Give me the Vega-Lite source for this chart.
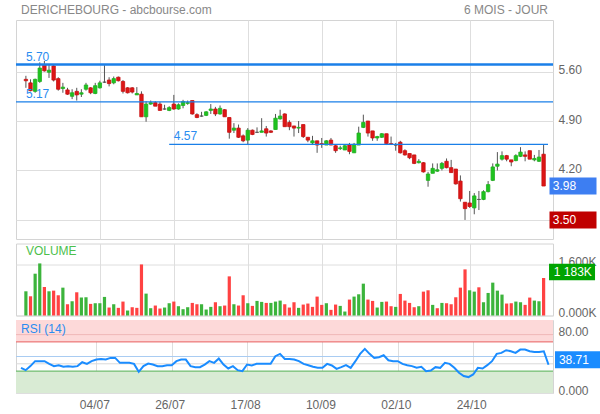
{
"$schema": "https://vega.github.io/schema/vega-lite/v6.json",
"autosize": {"type": "pad"},
"padding": {"left": 14, "top": 3, "right": 0, "bottom": 0},
"background": "white",
"config": {
  "font": "Liberation Sans",
  "view": {"stroke": "#d4d4d4"},
  "axis": {"gridColor": "#dedede", "domain": false, "ticks": false, "labelColor": "#666666", "labelFontSize": 12, "labelFont": "Liberation Sans", "titleFont": "Liberation Sans"}
},
"datasets": {
"one": [{}],
"p": [
{"i":0,"d":"12/06","o":5.49,"h":5.54,"l":5.37,"c":5.47,"v":763,"vd":"u","r":34.5},
{"i":1,"d":"13/06","o":5.44,"h":5.49,"l":5.32,"c":5.33,"v":606,"vd":"d","r":31.3},
{"i":2,"d":"14/06","o":5.32,"h":5.50,"l":5.30,"c":5.49,"v":1318,"vd":"u","r":36.8},
{"i":3,"d":"15/06","o":5.46,"h":5.73,"l":5.44,"c":5.65,"v":1642,"vd":"u","r":43.6},
{"i":4,"d":"18/06","o":5.70,"h":5.75,"l":5.60,"c":5.61,"v":899,"vd":"d","r":43.6},
{"i":5,"d":"19/06","o":5.59,"h":5.70,"l":5.51,"c":5.62,"v":763,"vd":"u","r":43.6},
{"i":6,"d":"20/06","o":5.68,"h":5.70,"l":5.46,"c":5.48,"v":784,"vd":"d","r":39.9},
{"i":7,"d":"21/06","o":5.50,"h":5.52,"l":5.33,"c":5.35,"v":638,"vd":"d","r":36.8},
{"i":8,"d":"22/06","o":5.36,"h":5.44,"l":5.30,"c":5.38,"v":878,"vd":"u","r":38.1},
{"i":9,"d":"25/06","o":5.34,"h":5.37,"l":5.27,"c":5.28,"v":355,"vd":"d","r":35.9},
{"i":10,"d":"26/06","o":5.25,"h":5.35,"l":5.21,"c":5.30,"v":449,"vd":"u","r":36.8},
{"i":11,"d":"27/06","o":5.32,"h":5.37,"l":5.19,"c":5.27,"v":732,"vd":"d","r":35.9},
{"i":12,"d":"28/06","o":5.28,"h":5.35,"l":5.24,"c":5.30,"v":565,"vd":"u","r":36.8},
{"i":13,"d":"29/06","o":5.35,"h":5.44,"l":5.33,"c":5.41,"v":575,"vd":"u","r":42.2},
{"i":14,"d":"02/07","o":5.37,"h":5.38,"l":5.28,"c":5.30,"v":366,"vd":"d","r":39.9},
{"i":15,"d":"03/07","o":5.29,"h":5.44,"l":5.28,"c":5.40,"v":387,"vd":"u","r":43.6},
{"i":16,"d":"04/07","o":5.37,"h":5.47,"l":5.36,"c":5.44,"v":387,"vd":"u","r":45.8},
{"i":17,"d":"05/07","o":5.45,"h":5.69,"l":5.44,"c":5.45,"v":586,"vd":"u","r":46.7},
{"i":18,"d":"06/07","o":5.48,"h":5.52,"l":5.39,"c":5.43,"v":251,"vd":"d","r":45.8},
{"i":19,"d":"09/07","o":5.44,"h":5.53,"l":5.42,"c":5.50,"v":355,"vd":"u","r":48.1},
{"i":20,"d":"10/07","o":5.52,"h":5.53,"l":5.46,"c":5.47,"v":241,"vd":"d","r":48.1},
{"i":21,"d":"11/07","o":5.46,"h":5.48,"l":5.29,"c":5.32,"v":439,"vd":"d","r":41.3},
{"i":22,"d":"12/07","o":5.37,"h":5.38,"l":5.29,"c":5.30,"v":157,"vd":"u","r":41.3},
{"i":23,"d":"13/07","o":5.37,"h":5.38,"l":5.29,"c":5.31,"v":261,"vd":"d","r":41.3},
{"i":24,"d":"16/07","o":5.27,"h":5.38,"l":5.27,"c":5.29,"v":241,"vd":"d","r":39.9},
{"i":25,"d":"17/07","o":5.28,"h":5.32,"l":4.96,"c":4.96,"v":1610,"vd":"d","r":29.0},
{"i":26,"d":"18/07","o":4.96,"h":5.18,"l":4.89,"c":5.14,"v":690,"vd":"u","r":36.8},
{"i":27,"d":"19/07","o":5.14,"h":5.19,"l":5.13,"c":5.16,"v":230,"vd":"u","r":40.4},
{"i":28,"d":"20/07","o":5.16,"h":5.18,"l":5.11,"c":5.11,"v":314,"vd":"d","r":39.0},
{"i":29,"d":"23/07","o":5.14,"h":5.17,"l":5.05,"c":5.05,"v":220,"vd":"d","r":36.8},
{"i":30,"d":"24/07","o":5.07,"h":5.13,"l":5.06,"c":5.07,"v":251,"vd":"u","r":36.8},
{"i":31,"d":"25/07","o":5.05,"h":5.11,"l":5.04,"c":5.09,"v":387,"vd":"u","r":38.1},
{"i":32,"d":"26/07","o":5.14,"h":5.27,"l":5.06,"c":5.07,"v":439,"vd":"d","r":38.1},
{"i":33,"d":"27/07","o":5.07,"h":5.15,"l":5.06,"c":5.13,"v":293,"vd":"u","r":43.6},
{"i":34,"d":"30/07","o":5.12,"h":5.20,"l":5.08,"c":5.175,"v":199,"vd":"u","r":45.8},
{"i":35,"d":"31/07","o":5.15,"h":5.19,"l":5.13,"c":5.16,"v":261,"vd":"u","r":45.8},
{"i":36,"d":"01/08","o":5.19,"h":5.19,"l":4.99,"c":5.00,"v":397,"vd":"d","r":36.8},
{"i":37,"d":"02/08","o":4.99,"h":5.01,"l":4.94,"c":4.95,"v":355,"vd":"d","r":35.4},
{"i":38,"d":"03/08","o":4.97,"h":5.03,"l":4.96,"c":4.97,"v":355,"vd":"u","r":35.4},
{"i":39,"d":"06/08","o":4.98,"h":5.04,"l":4.97,"c":5.03,"v":188,"vd":"u","r":39.0},
{"i":40,"d":"07/08","o":5.05,"h":5.14,"l":5.00,"c":5.07,"v":272,"vd":"u","r":43.6},
{"i":41,"d":"08/08","o":5.07,"h":5.10,"l":4.97,"c":5.00,"v":418,"vd":"d","r":41.3},
{"i":42,"d":"09/08","o":5.00,"h":5.12,"l":4.99,"c":5.08,"v":293,"vd":"u","r":47.2},
{"i":43,"d":"10/08","o":5.06,"h":5.07,"l":4.96,"c":4.96,"v":314,"vd":"d","r":39.0},
{"i":44,"d":"13/08","o":4.95,"h":4.95,"l":4.65,"c":4.74,"v":1234,"vd":"d","r":33.6},
{"i":45,"d":"14/08","o":4.77,"h":4.87,"l":4.73,"c":4.80,"v":355,"vd":"u","r":36.8},
{"i":46,"d":"15/08","o":4.80,"h":4.85,"l":4.66,"c":4.67,"v":314,"vd":"d","r":31.3},
{"i":47,"d":"16/08","o":4.69,"h":4.71,"l":4.60,"c":4.62,"v":638,"vd":"d","r":29.9},
{"i":48,"d":"17/08","o":4.63,"h":4.80,"l":4.56,"c":4.77,"v":387,"vd":"u","r":39.0},
{"i":49,"d":"20/08","o":4.77,"h":4.78,"l":4.70,"c":4.71,"v":303,"vd":"d","r":37.7},
{"i":50,"d":"21/08","o":4.74,"h":4.81,"l":4.73,"c":4.74,"v":460,"vd":"u","r":39.9},
{"i":51,"d":"22/08","o":4.74,"h":4.94,"l":4.74,"c":4.76,"v":429,"vd":"u","r":39.9},
{"i":52,"d":"23/08","o":4.79,"h":4.83,"l":4.68,"c":4.73,"v":397,"vd":"d","r":39.9},
{"i":53,"d":"24/08","o":4.76,"h":4.77,"l":4.73,"c":4.74,"v":397,"vd":"u","r":39.9},
{"i":54,"d":"27/08","o":4.78,"h":5.00,"l":4.78,"c":4.94,"v":439,"vd":"u","r":50.4},
{"i":55,"d":"28/08","o":4.93,"h":5.06,"l":4.92,"c":4.97,"v":470,"vd":"u","r":53.6},
{"i":56,"d":"29/08","o":5.00,"h":5.01,"l":4.82,"c":4.82,"v":355,"vd":"d","r":46.7},
{"i":57,"d":"30/08","o":4.88,"h":4.91,"l":4.77,"c":4.82,"v":251,"vd":"d","r":46.7},
{"i":58,"d":"31/08","o":4.83,"h":4.83,"l":4.68,"c":4.80,"v":418,"vd":"d","r":45.8},
{"i":59,"d":"03/09","o":4.80,"h":4.90,"l":4.73,"c":4.81,"v":241,"vd":"u","r":43.6},
{"i":60,"d":"04/09","o":4.85,"h":4.85,"l":4.66,"c":4.68,"v":345,"vd":"d","r":39.9},
{"i":61,"d":"05/09","o":4.67,"h":4.67,"l":4.60,"c":4.63,"v":377,"vd":"d","r":38.1},
{"i":62,"d":"06/09","o":4.59,"h":4.69,"l":4.56,"c":4.62,"v":272,"vd":"d","r":35.9},
{"i":63,"d":"07/09","o":4.62,"h":4.62,"l":4.45,"c":4.56,"v":596,"vd":"d","r":34.5},
{"i":64,"d":"10/09","o":4.58,"h":4.66,"l":4.52,"c":4.57,"v":335,"vd":"d","r":34.5},
{"i":65,"d":"11/09","o":4.56,"h":4.63,"l":4.56,"c":4.62,"v":387,"vd":"u","r":39.9},
{"i":66,"d":"12/09","o":4.63,"h":4.66,"l":4.56,"c":4.56,"v":178,"vd":"d","r":37.7},
{"i":67,"d":"13/09","o":4.55,"h":4.57,"l":4.45,"c":4.48,"v":345,"vd":"d","r":33.1},
{"i":68,"d":"14/09","o":4.51,"h":4.55,"l":4.49,"c":4.52,"v":303,"vd":"u","r":35.4},
{"i":69,"d":"17/09","o":4.49,"h":4.56,"l":4.49,"c":4.55,"v":125,"vd":"u","r":38.1},
{"i":70,"d":"18/09","o":4.56,"h":4.59,"l":4.43,"c":4.47,"v":502,"vd":"d","r":34.5},
{"i":71,"d":"19/09","o":4.45,"h":4.59,"l":4.45,"c":4.57,"v":596,"vd":"u","r":43.6},
{"i":72,"d":"20/09","o":4.56,"h":4.82,"l":4.56,"c":4.73,"v":669,"vd":"u","r":53.6},
{"i":73,"d":"21/09","o":4.81,"h":4.99,"l":4.80,"c":4.88,"v":1004,"vd":"u","r":60.4},
{"i":74,"d":"24/09","o":4.90,"h":4.90,"l":4.68,"c":4.73,"v":502,"vd":"d","r":53.6},
{"i":75,"d":"25/09","o":4.76,"h":4.76,"l":4.62,"c":4.66,"v":460,"vd":"d","r":48.1},
{"i":76,"d":"26/09","o":4.66,"h":4.69,"l":4.62,"c":4.68,"v":251,"vd":"u","r":49.0},
{"i":77,"d":"27/09","o":4.67,"h":4.73,"l":4.66,"c":4.72,"v":429,"vd":"u","r":51.7},
{"i":78,"d":"28/09","o":4.72,"h":4.72,"l":4.56,"c":4.58,"v":439,"vd":"d","r":44.9},
{"i":79,"d":"01/10","o":4.58,"h":4.68,"l":4.56,"c":4.57,"v":293,"vd":"d","r":43.6},
{"i":80,"d":"02/10","o":4.56,"h":4.59,"l":4.48,"c":4.56,"v":272,"vd":"u","r":43.6},
{"i":81,"d":"03/10","o":4.60,"h":4.62,"l":4.44,"c":4.45,"v":680,"vd":"d","r":39.9},
{"i":82,"d":"04/10","o":4.48,"h":4.50,"l":4.41,"c":4.42,"v":470,"vd":"d","r":38.1},
{"i":83,"d":"05/10","o":4.44,"h":4.44,"l":4.36,"c":4.38,"v":397,"vd":"d","r":36.8},
{"i":84,"d":"08/10","o":4.42,"h":4.42,"l":4.29,"c":4.30,"v":261,"vd":"d","r":34.5},
{"i":85,"d":"09/10","o":4.31,"h":4.36,"l":4.30,"c":4.33,"v":293,"vd":"u","r":35.9},
{"i":86,"d":"10/10","o":4.31,"h":4.32,"l":4.17,"c":4.18,"v":753,"vd":"d","r":29.9},
{"i":87,"d":"11/10","o":4.06,"h":4.18,"l":3.97,"c":4.15,"v":795,"vd":"d","r":30.8},
{"i":88,"d":"12/10","o":4.16,"h":4.30,"l":4.16,"c":4.23,"v":335,"vd":"u","r":35.4},
{"i":89,"d":"15/10","o":4.19,"h":4.30,"l":4.18,"c":4.21,"v":230,"vd":"d","r":34.5},
{"i":90,"d":"16/10","o":4.23,"h":4.32,"l":4.20,"c":4.30,"v":397,"vd":"u","r":41.3},
{"i":91,"d":"17/10","o":4.33,"h":4.37,"l":4.23,"c":4.24,"v":387,"vd":"d","r":39.9},
{"i":92,"d":"18/10","o":4.24,"h":4.35,"l":4.17,"c":4.17,"v":355,"vd":"d","r":34.5},
{"i":93,"d":"19/10","o":4.22,"h":4.22,"l":4.00,"c":4.01,"v":575,"vd":"d","r":27.7},
{"i":94,"d":"22/10","o":4.05,"h":4.13,"l":3.76,"c":3.80,"v":878,"vd":"d","r":23.2},
{"i":95,"d":"23/10","o":3.75,"h":3.75,"l":3.50,"c":3.66,"v":1454,"vd":"d","r":21.8},
{"i":96,"d":"24/10","o":3.74,"h":3.91,"l":3.67,"c":3.69,"v":795,"vd":"u","r":25.4},
{"i":97,"d":"25/10","o":3.67,"h":3.88,"l":3.58,"c":3.84,"v":753,"vd":"u","r":34.5},
{"i":98,"d":"26/10","o":3.79,"h":3.91,"l":3.64,"c":3.79,"v":889,"vd":"d","r":33.6},
{"i":99,"d":"29/10","o":3.79,"h":3.92,"l":3.78,"c":3.90,"v":418,"vd":"u","r":38.1},
{"i":100,"d":"30/10","o":3.90,"h":4.05,"l":3.89,"c":4.00,"v":711,"vd":"u","r":43.6},
{"i":101,"d":"31/10","o":4.06,"h":4.30,"l":4.05,"c":4.25,"v":1036,"vd":"u","r":53.6},
{"i":102,"d":"01/11","o":4.26,"h":4.46,"l":4.20,"c":4.29,"v":784,"vd":"u","r":54.9},
{"i":103,"d":"02/11","o":4.36,"h":4.47,"l":4.34,"c":4.41,"v":659,"vd":"u","r":58.6},
{"i":104,"d":"05/11","o":4.41,"h":4.42,"l":4.33,"c":4.36,"v":377,"vd":"d","r":57.2},
{"i":105,"d":"06/11","o":4.35,"h":4.35,"l":4.26,"c":4.32,"v":387,"vd":"d","r":54.9},
{"i":106,"d":"07/11","o":4.34,"h":4.43,"l":4.33,"c":4.41,"v":439,"vd":"u","r":59.5},
{"i":107,"d":"08/11","o":4.40,"h":4.53,"l":4.39,"c":4.46,"v":418,"vd":"u","r":59.5},
{"i":108,"d":"09/11","o":4.42,"h":4.47,"l":4.33,"c":4.40,"v":335,"vd":"d","r":57.2},
{"i":109,"d":"12/11","o":4.48,"h":4.48,"l":4.36,"c":4.36,"v":565,"vd":"d","r":56.3},
{"i":110,"d":"13/11","o":4.35,"h":4.42,"l":4.33,"c":4.37,"v":470,"vd":"u","r":56.3},
{"i":111,"d":"14/11","o":4.33,"h":4.49,"l":4.32,"c":4.39,"v":449,"vd":"u","r":57.2},
{"i":112,"d":"15/11","o":4.43,"h":4.57,"l":3.98,"c":3.98,"v":1183,"vd":"d","r":38.71}
]
},
"bounds": "flush",
"spacing": 4.5,
"vconcat": [
{
  "width": 537, "height": 219,
  "layer": [
    {"data": {"name": "p"}, "mark": {"type": "rule", "color": "#555555", "strokeWidth": 1},
     "encoding": {
       "x": {"field": "i", "type": "quantitative", "scale": {"domain": [-1.06, 112.95], "nice": false, "zero": false},
             "axis": {"orient": "top", "values": [16, 32, 48, 64, 80, 96], "labels": false, "grid": true, "title": null}},
       "y": {"field": "l", "type": "quantitative", "scale": {"domain": [3.23, 6.33], "nice": false, "zero": false},
             "axis": {"orient": "right", "values": [3.5, 4.2, 4.9, 5.6], "format": ".2f", "grid": true, "title": null, "labelPadding": 5, "labelOffset": -2}},
       "y2": {"field": "h"}
     }},
    {"data": {"name": "p"}, "mark": {"type": "bar", "width": 3.4, "strokeWidth": 0.8},
     "encoding": {
       "x": {"field": "i", "type": "quantitative"},
       "y": {"field": "o", "type": "quantitative"},
       "y2": {"field": "c"},
       "fill": {"condition": [{"test": "datum.c > datum.o", "value": "#1fc31f"}, {"test": "datum.c < datum.o", "value": "#dd1616"}], "value": "#555555"},
       "stroke": {"condition": [{"test": "datum.c > datum.o", "value": "#1fb01f"}, {"test": "datum.c < datum.o", "value": "#c81010"}], "value": "#555555"}
     }},
    {"data": {"name": "one"}, "mark": {"type": "rule", "color": "#1a7fe8", "strokeWidth": 2.4}, "encoding": {"y": {"datum": 5.70}}},
    {"data": {"name": "one"}, "mark": {"type": "rule", "color": "#1a7fe8", "strokeWidth": 1.3}, "encoding": {"y": {"datum": 5.17}}},
    {"data": {"name": "one"}, "mark": {"type": "rule", "color": "#1a7fe8", "strokeWidth": 1.3}, "encoding": {"x": {"datum": 31}, "x2": {"datum": 112.95}, "y": {"datum": 4.57}}},
    {"data": {"name": "one"}, "mark": {"type": "text", "align": "left", "baseline": "bottom", "dy": -1, "fontSize": 12, "color": "#2a8cf0"}, "encoding": {"x": {"datum": 0}, "y": {"datum": 5.70}, "text": {"value": "5.70"}}},
    {"data": {"name": "one"}, "mark": {"type": "text", "align": "left", "baseline": "bottom", "dy": -1, "fontSize": 12, "color": "#2a8cf0"}, "encoding": {"x": {"datum": 0}, "y": {"datum": 5.17}, "text": {"value": "5.17"}}},
    {"data": {"name": "one"}, "mark": {"type": "text", "align": "left", "baseline": "bottom", "dy": -1, "fontSize": 12, "color": "#2a8cf0"}, "encoding": {"x": {"datum": 32}, "y": {"datum": 4.57}, "text": {"value": "4.57"}}},
    {"data": {"name": "one"}, "mark": {"type": "text", "align": "left", "baseline": "middle", "fontSize": 12, "color": "#888888"}, "encoding": {"x": {"datum": -1.06}, "y": {"datum": 6.465}, "text": {"value": "DERICHEBOURG - abcbourse.com"}}},
    {"data": {"name": "one"}, "mark": {"type": "text", "align": "right", "baseline": "middle", "fontSize": 12, "color": "#888888"}, "encoding": {"x": {"datum": 112.95}, "y": {"datum": 6.465}, "text": {"value": "6 MOIS - JOUR"}}},
    {"data": {"name": "one"}, "mark": {"type": "point", "shape": "M-1,-0.362H1V0.362H-1Z", "size": 2209, "filled": true, "opacity": 1, "color": "#3d7ef2"}, "encoding": {"x": {"datum": 118.36}, "y": {"datum": 3.98}}},
    {"data": {"name": "one"}, "mark": {"type": "point", "shape": "M-1,-0.362H1V0.362H-1Z", "size": 2209, "filled": true, "opacity": 1, "color": "#c00000"}, "encoding": {"x": {"datum": 118.36}, "y": {"datum": 3.50}}},
    {"data": {"name": "one"}, "mark": {"type": "text", "align": "left", "baseline": "middle", "fontSize": 12, "color": "white"}, "encoding": {"x": {"datum": 114.0}, "y": {"datum": 3.98}, "text": {"value": "3.98"}}},
    {"data": {"name": "one"}, "mark": {"type": "text", "align": "left", "baseline": "middle", "fontSize": 12, "color": "white"}, "encoding": {"x": {"datum": 114.0}, "y": {"datum": 3.50}, "text": {"value": "3.50"}}}
  ]
},
{
  "width": 537, "height": 72,
  "layer": [
    {"data": {"name": "p"}, "mark": {"type": "bar", "width": 3.2},
     "encoding": {
       "x": {"field": "i", "type": "quantitative", "scale": {"domain": [-1.06, 112.95], "nice": false, "zero": false},
             "axis": {"values": [16, 32, 48, 64, 80, 96], "labels": false, "grid": true, "title": null}},
       "y": {"field": "v", "type": "quantitative", "scale": {"domain": [0, 2270], "nice": false},
             "axis": {"orient": "right", "values": [0, 800, 1600], "labelExpr": "datum.value == 0 ? '0.000K' : datum.value == 800 ? '800.0K' : '1 600K'", "grid": true, "title": null, "labelPadding": 5, "labelOffset": -3}},
       "color": {"condition": {"test": "datum.vd == 'u'", "value": "#3cb43c"}, "value": "#ff4242"}
     }},
    {"data": {"name": "one"}, "mark": {"type": "text", "align": "left", "baseline": "middle", "fontSize": 12, "color": "#4cc04c"}, "encoding": {"x": {"datum": 0}, "y": {"datum": 2020}, "text": {"value": "VOLUME"}}},
    {"data": {"name": "one"}, "mark": {"type": "point", "shape": "M-1,-0.362H1V0.362H-1Z", "size": 2116, "filled": true, "opacity": 1, "color": "#00a400"}, "encoding": {"x": {"datum": 118.15}, "y": {"datum": 1183}, "yOffset": {"value": -6}}},
    {"data": {"name": "one"}, "mark": {"type": "text", "align": "left", "baseline": "middle", "fontSize": 12, "color": "white", "dy": -6}, "encoding": {"x": {"datum": 114.2}, "y": {"datum": 1183}, "text": {"value": "1 183K"}}}
  ]
},
{
  "width": 537, "height": 73,
  "layer": [
    {"data": {"name": "one"}, "mark": {"type": "rect", "color": "#fdd9d9"}, "encoding": {"y": {"datum": 70, "type": "quantitative", "scale": {"domain": [0, 100], "nice": false},
             "axis": {"orient": "right", "values": [0, 40, 80], "labelExpr": "datum.value == 0 ? '0.000' : format(datum.value, '.2f')", "grid": true, "title": null, "labelPadding": 5, "labelOffset": -3}}, "y2": {"datum": 100}}},
    {"data": {"name": "one"}, "mark": {"type": "rect", "color": "#d9ebd4"}, "encoding": {"y": {"datum": 0}, "y2": {"datum": 30}}},
    {"data": {"name": "one"}, "mark": {"type": "rule", "color": "#f0b8b8", "strokeWidth": 1}, "encoding": {"y": {"datum": 80}}},
    {"data": {"name": "one"}, "mark": {"type": "rule", "color": "#d9d9d9", "strokeWidth": 1}, "encoding": {"y": {"datum": 40}}},
    {"data": {"name": "one"}, "mark": {"type": "rule", "color": "#e86060", "strokeWidth": 1}, "encoding": {"y": {"datum": 70}}},
    {"data": {"name": "one"}, "mark": {"type": "rule", "color": "#a9ccf2", "strokeWidth": 1}, "encoding": {"y": {"datum": 50}}},
    {"data": {"name": "one"}, "mark": {"type": "rule", "color": "#55b055", "strokeWidth": 1}, "encoding": {"y": {"datum": 30}}},
    {"data": {"name": "p"}, "mark": {"type": "line", "color": "#1a8cff", "strokeWidth": 2},
     "encoding": {
       "x": {"field": "i", "type": "quantitative", "scale": {"domain": [-1.06, 112.95], "nice": false, "zero": false},
             "axis": {"values": [16, 32, 48, 64, 80, 96], "grid": true, "title": null, "labelPadding": 6, "labelOffset": -2,
                      "labelExpr": "datum.value == 16 ? '04/07' : datum.value == 32 ? '26/07' : datum.value == 48 ? '17/08' : datum.value == 64 ? '10/09' : datum.value == 80 ? '02/10' : '24/10'"}},
       "y": {"field": "r", "type": "quantitative"}
     }},
    {"data": {"name": "one"}, "mark": {"type": "text", "align": "left", "baseline": "middle", "fontSize": 12, "color": "#2a8cf0"}, "encoding": {"x": {"datum": 0}, "y": {"datum": 88}, "text": {"value": "RSI (14)"}}},
    {"data": {"name": "one"}, "mark": {"type": "point", "shape": "M-1,-0.362H1V0.362H-1Z", "size": 2209, "filled": true, "opacity": 1, "color": "#1a8cff"}, "encoding": {"x": {"datum": 118.36}, "y": {"datum": 38.71}, "yOffset": {"value": -5}}},
    {"data": {"name": "one"}, "mark": {"type": "text", "align": "left", "baseline": "middle", "fontSize": 12, "color": "white", "dy": -5}, "encoding": {"x": {"datum": 114.2}, "y": {"datum": 38.71}, "text": {"value": "38.71"}}}
  ]
}
]
}
